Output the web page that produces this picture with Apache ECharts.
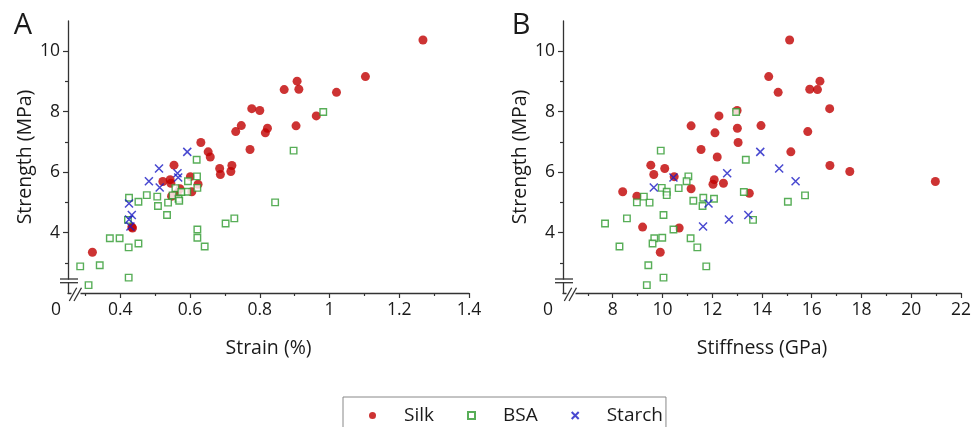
<!DOCTYPE html>
<html>
<head>
<meta charset="utf-8">
<title>Strength vs strain and stiffness</title>
<script src="https://cdn.jsdelivr.net/npm/echarts@6/dist/echarts.min.js"></script>
<style>
    html, body { margin: 0; padding: 0; background: #fff; }
    #chart { width: 974px; height: 427px; }
</style>
</head>
<body>
<div id="chart"></div>
<script>
    // silk
    const silkStrength = [10.37, 9.16, 9.01, 8.74, 8.73, 8.64, 8.10, 8.04, 7.86, 7.54, 7.53, 7.45, 7.34, 7.30, 6.98, 6.75, 6.67, 6.50, 6.23, 6.22,
        6.12, 6.02, 5.92, 5.85, 5.75, 5.69, 5.63, 5.60, 5.45, 5.35, 5.30, 5.20, 4.18, 4.15, 3.35];
    const silkStrain = [1.268, 1.103, 0.907, 0.912, 0.870, 1.020, 0.777, 0.800, 0.962, 0.747, 0.904, 0.822, 0.731, 0.816, 0.631, 0.772, 0.652, 0.658, 0.554, 0.720,
        0.685, 0.717, 0.687, 0.601, 0.543, 0.522, 0.545, 0.623, 0.571, 0.605, 0.563, 0.547, 0.433, 0.435, 0.320];
    const silkStiffness = [15.11, 14.27, 16.33, 15.92, 16.23, 14.65, 16.72, 13.00, 12.27, 13.96, 11.15, 13.01, 15.84, 12.11, 13.04, 11.55, 15.16, 12.20, 9.53, 16.73,
        10.09, 17.53, 9.65, 10.47, 12.08, 20.97, 12.45, 12.03, 11.15, 8.40, 13.49, 8.97, 9.20, 10.67, 9.91];

    // BSA
    const bsaStrength = [7.99, 6.71, 6.41, 5.86, 5.70, 5.48, 5.47, 5.35, 5.34, 5.24, 5.23, 5.19, 5.15, 5.12, 5.05, 5.02, 5.00, 4.99, 4.88, 4.58,
        4.47, 4.42, 4.30, 4.10, 3.83, 3.81, 3.81, 3.64, 3.54, 3.51, 2.92, 2.88, 2.51, 2.26];
    const bsaStrain = [0.982, 0.897, 0.619, 0.620, 0.594, 0.621, 0.558, 0.592, 0.575, 0.476, 0.550, 0.506, 0.425, 0.567, 0.569, 0.452, 0.844, 0.537, 0.508, 0.534,
        0.727, 0.422, 0.702, 0.621, 0.621, 0.370, 0.398, 0.452, 0.642, 0.424, 0.341, 0.285, 0.424, 0.309];
    const bsaStiffness = [12.96, 9.93, 13.35, 11.04, 10.97, 9.97, 10.65, 10.17, 13.27, 10.17, 15.73, 9.25, 11.64, 12.07, 11.24, 15.04, 8.97, 9.48, 11.61, 10.04,
        8.57, 13.64, 7.69, 10.44, 9.99, 9.67, 11.13, 9.60, 8.27, 11.40, 9.43, 11.76, 10.04, 9.37];

    // starch
    const starchStrength = [6.67, 6.12, 5.70, 5.49, 5.96, 5.82, 4.96, 4.58, 4.43, 4.20];
    const starchStrain = [0.592, 0.511, 0.482, 0.513, 0.564, 0.566, 0.425, 0.433, 0.425, 0.429];
    const starchStiffness = [13.93, 14.69, 15.35, 9.65, 12.60, 10.44, 11.85, 13.45, 12.67, 11.63];

    // ticks
    const strainTicks = [0.4, 0.6, 0.8, 1, 1.2, 1.4];
    const strainMinor = [0.3, 0.5, 0.7, 0.9, 1.1, 1.3];
    const stiffTicks = [8, 10, 12, 14, 16, 18, 20, 22];
    const stiffMinor = [7, 9, 11, 13, 15, 17, 19, 21];
    const strengthTicks = [4, 6, 8, 10];
    const strengthMinor = [3, 5, 7, 9];
    const originLabel = '0';

    const FONT = "'Open Sans', sans-serif";
    const AXIS = '#333';
    const TXT = '#1a1a1a';
    // grid frames (px)
    const GA = {left: 68, top: 21, width: 401, height: 272};
    const GB = {left: 563, top: 21, width: 401, height: 272};

    function pairs(xs, ys) {
        return xs.map(function (x, i) { return [x, ys[i]]; });
    }

    function mainAxis(grid, min, max, ticks, name, gap, isY) {
        return {
            type: 'value', gridIndex: grid, min: min, max: max,
            position: isY ? 'left' : 'bottom',
            name: name, nameLocation: 'middle', nameGap: gap,
            nameTextStyle: {fontFamily: FONT, fontSize: 19.5, color: TXT},
            axisLine: {show: true, onZero: false, lineStyle: {color: AXIS, width: 1.3}},
            axisTick: {show: true, customValues: ticks, length: 5, lineStyle: {color: AXIS, width: 1.2}},
            axisLabel: {customValues: ticks, margin: 8, fontFamily: FONT, fontSize: 17.5, color: TXT},
            splitLine: {show: false}
        };
    }

    function minorAxis(grid, min, max, ticks, isY) {
        return {
            type: 'value', gridIndex: grid, min: min, max: max,
            position: isY ? 'left' : 'bottom',
            axisLine: {show: false, onZero: false},
            axisTick: {show: true, customValues: ticks, length: 3, lineStyle: {color: AXIS, width: 1.2}},
            axisLabel: {show: false},
            splitLine: {show: false}
        };
    }

    function breakMarks(ox, oy) {
        const st = {stroke: AXIS, lineWidth: 1.3};
        return [
            {type: 'rect', z: 100, shape: {x: ox - 4, y: oy - 13.4, width: 8, height: 2.8}, style: {fill: '#fff'}},
            {type: 'line', z: 101, shape: {x1: ox - 8, y1: oy - 14, x2: ox + 10, y2: oy - 14}, style: st},
            {type: 'line', z: 101, shape: {x1: ox - 8, y1: oy - 10.3, x2: ox + 10, y2: oy - 10.3}, style: st},
            {type: 'rect', z: 100, shape: {x: ox + 3.5, y: oy - 4, width: 9, height: 8}, style: {fill: '#fff'}},
            {type: 'line', z: 101, shape: {x1: ox + 1.3, y1: oy + 8, x2: ox + 8.7, y2: oy - 5.3}, style: st},
            {type: 'line', z: 101, shape: {x1: ox + 6, y1: oy + 8, x2: ox + 13.5, y2: oy - 5.3}, style: st}
        ];
    }

    function panelText(x, y, text, size) {
        return {type: 'text', z: 101, x: x, y: y,
            style: {text: text, fontFamily: FONT, fontSize: size, fill: TXT, align: 'center', verticalAlign: 'middle'}};
    }

    const silkStyle = {symbol: 'circle', symbolSize: 9, itemStyle: {color: '#c00000'}};
    const bsaStyle = {symbol: 'rect', symbolSize: 6.5, itemStyle: {color: '#fff', borderColor: '#2e9a2e', borderWidth: 1.4}};
    const starchStyle = {symbol: 'path://M0,0L10,10M10,0L0,10', symbolSize: 8,
        itemStyle: {color: 'transparent', borderColor: '#1c1cc4', borderWidth: 1.5}};

    function scatter(name, style, xi, yi, data) {
        return Object.assign({name: name, type: 'scatter', xAxisIndex: xi, yAxisIndex: yi, data: data,
            emphasis: {disabled: true}, animation: false}, style);
    }

    const chart = echarts.init(document.getElementById('chart'));
    chart.setOption({
        animation: false,
        textStyle: {fontFamily: FONT},
        grid: [
            {left: GA.left, top: GA.top, width: GA.width, height: GA.height},
            {left: GB.left, top: GB.top, width: GB.width, height: GB.height}
        ],
        xAxis: [
            mainAxis(0, 0.25, 1.4, strainTicks, 'Strain (%)', 45, false),
            minorAxis(0, 0.25, 1.4, strainMinor, false),
            mainAxis(1, 6, 22, stiffTicks, 'Stiffness (GPa)', 45, false),
            minorAxis(1, 6, 22, stiffMinor, false)
        ],
        yAxis: [
            mainAxis(0, 2, 11, strengthTicks, 'Strength (MPa)', 33, true),
            minorAxis(0, 2, 11, strengthMinor, true),
            mainAxis(1, 2, 11, strengthTicks, 'Strength (MPa)', 33, true),
            minorAxis(1, 2, 11, strengthMinor, true)
        ],
        legend: {
            left: 343, top: 397,
            itemWidth: 7, itemHeight: 7, itemGap: 33,
            padding: [9, 3, 30, 26],
            borderColor: '#888', borderWidth: 1,
            textStyle: {fontFamily: FONT, fontSize: 19, color: TXT, padding: [0, 0, 0, 23]},
            data: ['Silk', 'BSA', 'Starch']
        },
        graphic: [].concat(
            breakMarks(GA.left, GA.top + GA.height),
            breakMarks(GB.left, GB.top + GB.height),
            [panelText(23, 26, 'A', 29), panelText(521, 26, 'B', 29),
             panelText(56, 310, originLabel, 17.5), panelText(548, 310, originLabel, 17.5)]
        ),
        series: [
            scatter('Silk', silkStyle, 0, 0, pairs(silkStrain, silkStrength)),
            scatter('BSA', bsaStyle, 0, 0, pairs(bsaStrain, bsaStrength)),
            scatter('Starch', starchStyle, 0, 0, pairs(starchStrain, starchStrength)),
            scatter('Silk', silkStyle, 2, 2, pairs(silkStiffness, silkStrength)),
            scatter('BSA', bsaStyle, 2, 2, pairs(bsaStiffness, bsaStrength)),
            scatter('Starch', starchStyle, 2, 2, pairs(starchStiffness, starchStrength))
        ]
    });
</script>
</body>
</html>
